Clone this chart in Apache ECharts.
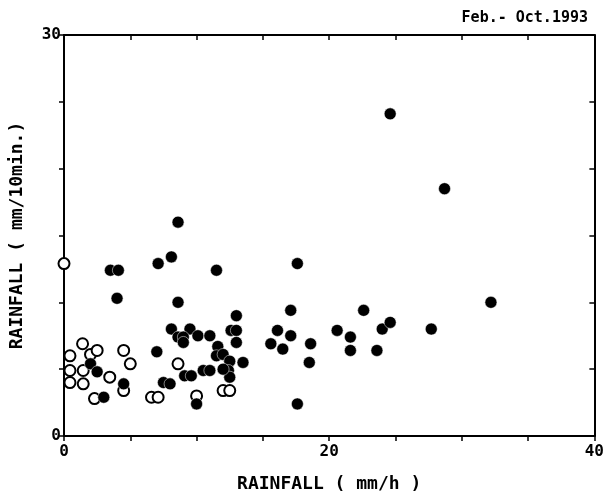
<!DOCTYPE html>
<html>
<head>
<meta charset="utf-8">
<script src="https://cdn.jsdelivr.net/npm/echarts@6/dist/echarts.min.js"></script>
<style>
html, body { margin: 0; padding: 0; background: #fff; }
#chart { width: 607px; height: 501px; }
</style>
</head>
<body>
<div id="chart"></div>
<script>
// rainfall intensity: mm/h (x) vs mm/10min (y)
var filledPoints = [
  [24.6, 24.1], [28.7, 18.5], [8.6, 16.0], [8.1, 13.4], [7.1, 12.9],
  [3.5, 12.4], [4.1, 12.4], [11.5, 12.4], [17.6, 12.9], [4.0, 10.3],
  [8.6, 10.0], [32.2, 10.0], [17.1, 9.4], [22.6, 9.4], [13.0, 9.0],
  [12.6, 7.9], [13.0, 7.9], [13.0, 7.0], [8.1, 8.0], [9.5, 8.0],
  [8.6, 7.4], [9.0, 7.4], [10.1, 7.5], [11.0, 7.5], [9.0, 7.0],
  [11.6, 6.7], [11.5, 6.0], [12.0, 6.1], [12.5, 5.6], [13.5, 5.5],
  [12.4, 4.9], [12.5, 4.4], [10.5, 4.9], [11.0, 4.9], [12.0, 5.0],
  [9.1, 4.5], [9.6, 4.5], [10.0, 2.4], [16.1, 7.9], [17.1, 7.5],
  [15.6, 6.9], [16.5, 6.5], [18.6, 6.9], [18.5, 5.5], [20.6, 7.9],
  [21.6, 7.4], [21.6, 6.4], [23.6, 6.4], [24.0, 8.0], [24.6, 8.5],
  [27.7, 8.0], [17.6, 2.4], [7.0, 6.3], [2.0, 5.4], [2.5, 4.8],
  [4.5, 3.9], [7.5, 4.0], [8.0, 3.9], [3.0, 2.9]
];
var openPoints = [
  [0, 12.9], [1.4, 6.9], [0.45, 6.0], [2.0, 6.1], [2.5, 6.4],
  [4.5, 6.4], [5.0, 5.4], [0.45, 4.9], [1.45, 4.9], [3.45, 4.4],
  [4.5, 3.4], [0.45, 4.0], [1.45, 3.9], [8.6, 5.4], [2.3, 2.8],
  [6.6, 2.9], [7.1, 2.9], [12.0, 3.4], [12.5, 3.4], [10.0, 3.0]
];
var xLabels = [0, 20, 40];
var yLabels = [0, 30];

var FONT = 'DejaVu Sans Mono';
var myChart = echarts.init(document.getElementById('chart'));

function axisBase(lbls, show) {
  return {
    type: 'value',
    min: 0,
    interval: 5,
    axisLine: { show: true, onZero: false, lineStyle: { color: '#000', width: 2 } },
    axisTick: { show: true, length: 5, lineStyle: { color: '#000', width: 1.5 } },
    splitLine: { show: false },
    axisLabel: {
      show: show,
      color: '#000',
      fontFamily: FONT,
      fontSize: 16,
      fontWeight: 'bold',
      formatter: function(v) {
        return lbls.indexOf(v) >= 0 ? String(v) : '';
      }
    }
  };
}

var xBottom = axisBase(xLabels, true);
xBottom.max = 40;
xBottom.position = 'bottom';
xBottom.name = 'RAINFALL ( mm/h )';
xBottom.nameLocation = 'middle';
xBottom.nameGap = 39;
xBottom.nameTextStyle = { color: '#000', fontFamily: FONT, fontSize: 18, fontWeight: 'bold' };
xBottom.axisLabel.margin = 8;

var xTop = axisBase([], false);
xTop.max = 40;
xTop.position = 'top';
xTop.axisTick.inside = true;

var yLeft = axisBase(yLabels, true);
yLeft.max = 30;
yLeft.position = 'left';
yLeft.name = 'RAINFALL ( mm/10min.)';
yLeft.nameLocation = 'middle';
yLeft.nameGap = 38;
yLeft.nameRotate = 90;
yLeft.nameTextStyle = { color: '#000', fontFamily: FONT, fontSize: 18, fontWeight: 'bold' };
yLeft.axisLabel.margin = 3;

var yRight = axisBase([], false);
yRight.max = 30;
yRight.position = 'right';
yRight.axisTick.inside = true;

myChart.setOption({
  backgroundColor: '#fff',
  animation: false,
  title: {
    text: 'Feb.- Oct.1993',
    right: 14,
    top: 6,
    textStyle: { color: '#000', fontFamily: FONT, fontSize: 15, fontWeight: 'bold' }
  },
  grid: { left: 64, right: 10, top: 35, bottom: 65 },
  xAxis: [xBottom, xTop],
  yAxis: [yLeft, yRight],
  series: [
    {
      name: 'open',
      type: 'scatter',
      xAxisIndex: 0,
      yAxisIndex: 0,
      symbol: 'circle',
      symbolSize: 11,
      itemStyle: { color: '#fff', borderColor: '#000', borderWidth: 2, opacity: 1 },
      data: openPoints
    },
    {
      name: 'filled',
      type: 'scatter',
      xAxisIndex: 0,
      yAxisIndex: 0,
      symbol: 'circle',
      symbolSize: 12,
      itemStyle: { color: '#000', borderColor: '#fff', borderWidth: 0.5, opacity: 1 },
      data: filledPoints
    }
  ]
});
</script>
</body>
</html>
